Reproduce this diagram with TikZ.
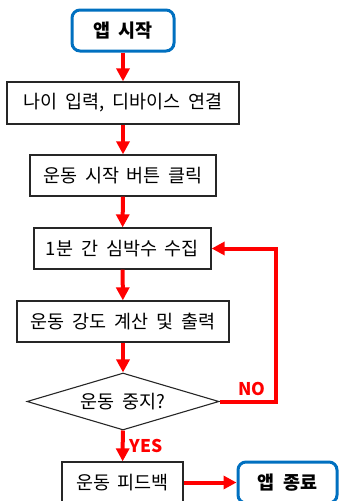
\documentclass[tikz,border=0pt]{standalone}
\usepackage{fontspec}
\setmainfont{Noto Sans CJK KR}[WordSpace=1.9]
\usetikzlibrary{shapes.geometric,arrows.meta}
\definecolor{boxblue}{RGB}{0,112,192}
\definecolor{flowred}{RGB}{255,0,0}
\tikzset{
  txt/.style={font=\fontsize{18.5}{22}\selectfont},
  procbox/.style={draw=black!85, line width=1.3pt, fill=white, inner sep=0pt, txt},
  termbox/.style={draw=boxblue, line width=3pt, rounded corners=8pt, fill=white, inner sep=0pt, font=\fontsize{18.5}{22}\selectfont\bfseries},
  decbox/.style={draw=black!85, line width=1.1pt, shape=diamond, aspect=3.37, inner sep=0pt, minimum width=192pt, minimum height=57pt, txt},
  flow/.style={draw=flowred, line width=4pt, -{Triangle[length=13pt,width=13pt]}},
  lab/.style={text=flowred, font=\fontsize{17.5}{20}\selectfont\bfseries, inner sep=0pt}
}
\begin{document}
\begin{tikzpicture}[x=1pt,y=-1pt]
\useasboundingbox (0,0) rectangle (338,501);
\node[termbox, minimum width=102pt, minimum height=41pt] (start) at (123,30.5) {앱 시작};
\node[procbox, minimum width=232pt, minimum height=42pt] (b2) at (123,103) {나이 입력, 디바이스 연결};
\node[procbox, minimum width=186pt, minimum height=41pt] (b3) at (123,175.5) {운동 시작 버튼 클릭};
\node[procbox, minimum width=177pt, minimum height=41pt] (b4) at (122.5,248.5) {1분 간 심박수 수집};
\node[procbox, minimum width=212pt, minimum height=41pt] (b5) at (123,321.5) {운동 강도 계산 및 출력};
\node[decbox] (d) at (123,401.5) {운동 중지?};
\node[procbox, minimum width=121pt, minimum height=41pt] (b6) at (122.5,482.5) {운동 피드백};
\node[termbox, minimum width=99pt, minimum height=41pt] (end) at (287.5,482.5) {앱 종료};
\coordinate (c1) at (276,401.5);
\coordinate (c2) at (276,248.5);
\draw[flow] (start) -- (b2);
\draw[flow] (b2) -- (b3);
\draw[flow] (b3) -- (b4);
\draw[flow] (b4) -- (b5);
\draw[flow] (b5) -- (d);
\draw[flow] (d) -- (b6);
\draw[flow] (b6) -- (end);
\draw[flow, line join=miter] (d.east) -- (c1) -- (c2) -- (b4.east);
\node[lab] (no) at (252,389) {NO};
\node[lab] (yes) at (146,445.5) {YES};
\end{tikzpicture}
\end{document}
